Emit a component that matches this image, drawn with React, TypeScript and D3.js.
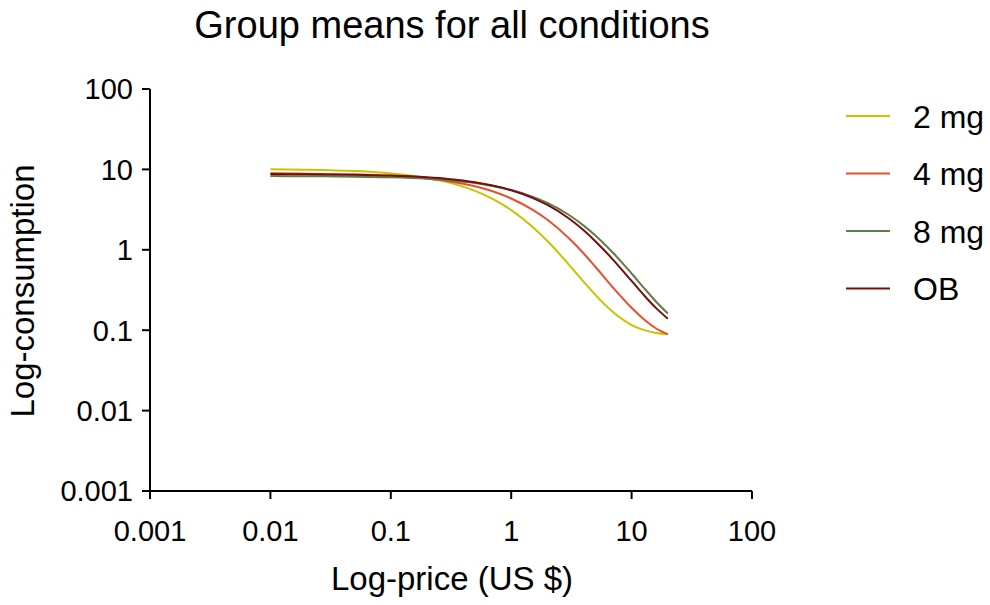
import React from "react";
import * as d3 from "d3";

// Prices (US $) at which each group's mean demand curve is sampled
const prices = [0.01, 0.02, 0.05, 0.1, 0.2, 0.3, 0.5, 0.7, 1, 1.5, 2, 3, 4, 5, 7, 10, 13, 16, 20];

// Mean consumption per condition at each price
const mg2 = [10.06, 9.92, 9.53, 8.92, 7.83, 6.9, 5.41, 4.3, 3.12, 1.94, 1.285, 0.66, 0.4, 0.275, 0.168, 0.116, 0.0995, 0.0925, 0.0895];
const mg4 = [8.93, 8.86, 8.65, 8.32, 7.7, 7.14, 6.17, 5.35, 4.35, 3.16, 2.36, 1.4, 0.9, 0.615, 0.34, 0.19, 0.132, 0.105, 0.089];
const mg8 = [8.26, 8.23, 8.13, 7.96, 7.63, 7.32, 6.75, 6.23, 5.54, 4.59, 3.83, 2.73, 2.0, 1.51, 0.92, 0.507, 0.321, 0.226, 0.161];
const ob = [8.75, 8.7, 8.58, 8.37, 7.97, 7.6, 6.91, 6.3, 5.5, 4.43, 3.61, 2.47, 1.75, 1.28, 0.756, 0.41, 0.261, 0.188, 0.1385];

const seriesNames = ["2 mg", "4 mg", "8 mg", "OB"];
const seriesColors = ["#c9c300", "#e8502c", "#5e7d4a", "#7a0c0c"];
const seriesValues = [mg2, mg4, mg8, ob];

const xTicks = [0.001, 0.01, 0.1, 1, 10, 100];
const yTicks = [0.001, 0.01, 0.1, 1, 10, 100];

const W = 990;
const H = 605;
const FONT = "'Liberation Sans', Arial, sans-serif";

export default function App() {
  const x = d3.scaleLog().domain([0.001, 100]).range([150, 752]);
  const y = d3.scaleLog().domain([0.001, 100]).range([491, 89]);
  const tick = 8;

  const line = d3
    .line<number>()
    .x((_, i) => x(prices[i]))
    .y((d) => y(d))
    .curve(d3.curveMonotoneX);

  const fmt = (v: number) => (v >= 1 ? String(v) : String(+v.toPrecision(1)));

  return (
    <svg width={W} height={H} style={{ position: "absolute", left: 0, top: 0 }} fontFamily={FONT}>
      <rect width={W} height={H} fill="#fff" />
      <text x={452} y={38} textAnchor="middle" fontSize={38} fill="#000">
        Group means for all conditions
      </text>

      {/* Y axis */}
      <line x1={x(0.001)} x2={x(0.001)} y1={y(100)} y2={y(0.001) + tick} stroke="#000" strokeWidth={2} />
      {yTicks.map((t) => (
        <g key={"y" + t}>
          <line x1={x(0.001) - tick} x2={x(0.001)} y1={y(t)} y2={y(t)} stroke="#000" strokeWidth={2} />
          <text x={x(0.001) - 17} y={y(t)} dy="0.36em" textAnchor="end" fontSize={29} fill="#000">
            {fmt(t)}
          </text>
        </g>
      ))}

      {/* X axis */}
      <line x1={x(0.001) - tick} x2={x(100)} y1={y(0.001)} y2={y(0.001)} stroke="#000" strokeWidth={2} />
      {xTicks.map((t) => (
        <g key={"x" + t}>
          <line x1={x(t)} x2={x(t)} y1={y(0.001)} y2={y(0.001) + tick} stroke="#000" strokeWidth={2} />
          <text x={x(t)} y={541} textAnchor="middle" fontSize={29} fill="#000">
            {fmt(t)}
          </text>
        </g>
      ))}

      <text x={452} y={590} textAnchor="middle" fontSize={33} fill="#000">
        Log-price (US $)
      </text>
      <text transform={`translate(34, 291) rotate(-90)`} textAnchor="middle" fontSize={33} fill="#000">
        Log-consumption
      </text>

      {/* Curves */}
      {seriesValues.map((vals, i) => (
        <path key={seriesNames[i]} d={line(vals) || ""} fill="none" stroke={seriesColors[i]} strokeWidth={2} />
      ))}

      {/* Legend */}
      {seriesNames.map((name, i) => {
        const ly = 116 + i * 57.5;
        return (
          <g key={"lg" + name}>
            <line x1={846} x2={890} y1={ly} y2={ly} stroke={seriesColors[i]} strokeWidth={2} />
            <text x={913} y={ly} dy="0.36em" fontSize={32} fill="#000">
              {name}
            </text>
          </g>
        );
      })}
    </svg>
  );
}
